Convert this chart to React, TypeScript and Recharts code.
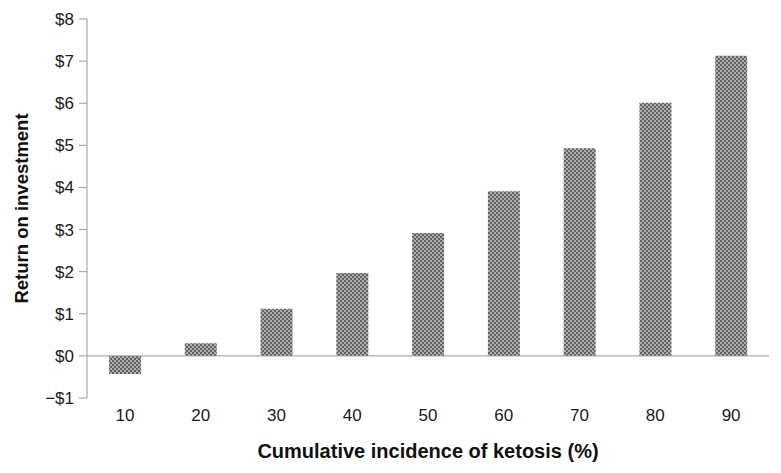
import React from 'react';
import { BarChart, Bar, XAxis, YAxis, ReferenceLine, Label } from 'recharts';

const incidence = ['10', '20', '30', '40', '50', '60', '70', '80', '90'];
const roi = [-0.43, 0.3, 1.12, 1.97, 2.92, 3.91, 4.93, 6.01, 7.13];
const yTicks = [-1, 0, 1, 2, 3, 4, 5, 6, 7, 8];

const data = incidence.map((name, i) => ({ name, roi: roi[i] }));

const fmtDollar = (v: number) => (v < 0 ? `\u2212$${-v}` : `$${v}`);

const font = '"Liberation Sans", Arial, Helvetica, sans-serif';

export default function App() {
  return (
    <div style={{ position: 'absolute', left: 0, top: 0, background: '#fff' }}>
      <BarChart
        width={781}
        height={473}
        data={data}
        margin={{ top: 19, right: 12, left: 0, bottom: 0 }}
        style={{ fontFamily: font }}
      >
        <defs>
          <pattern id="checker" width="4" height="4" patternUnits="userSpaceOnUse">
            <rect width="4" height="4" fill="#adadad" />
            <rect width="2" height="2" fill="#626262" />
            <rect x="2" y="2" width="2" height="2" fill="#626262" />
          </pattern>
        </defs>
        <XAxis
          dataKey="name"
          height={75}
          axisLine={false}
          tickLine={false}
          tickMargin={5}
          fontSize={17}
          tick={{ fill: '#1a1a1a', fontSize: 17 }}
        >
          <Label
            value="Cumulative incidence of ketosis (%)"
            position="insideBottom"
            offset={15}
            style={{ fill: '#111', fontSize: 20, fontWeight: 'bold' }}
          />
        </XAxis>
        <YAxis
          width={87}
          domain={[-1, 8]}
          ticks={yTicks}
          interval={0}
          tickFormatter={fmtDollar}
          stroke="#999"
          tickSize={8}
          tickMargin={5}
          fontSize={17}
          tick={{ fill: '#1a1a1a', fontSize: 17 }}
        >
          <Label
            value="Return on investment"
            angle={-90}
            position="insideLeft"
            offset={21}
            style={{ textAnchor: 'middle', fill: '#111', fontSize: 18.5, fontWeight: 'bold' }}
          />
        </YAxis>
        <ReferenceLine y={0} stroke="#999" strokeWidth={1} />
        <Bar dataKey="roi" fill="url(#checker)" barSize={32} isAnimationActive={false} />
      </BarChart>
    </div>
  );
}
